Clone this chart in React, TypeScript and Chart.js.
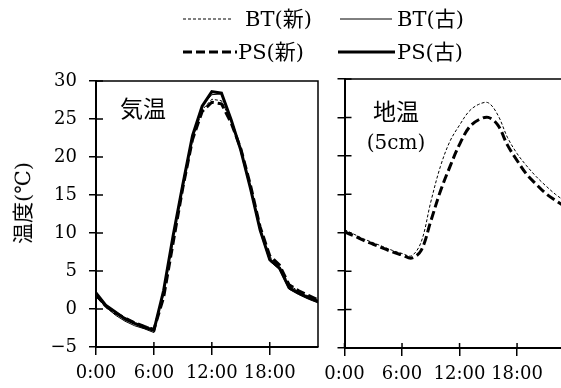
import React, { useEffect, useRef } from 'react';
import { Chart, registerables } from 'chart.js';

Chart.register(...registerables);

// ---- data ----
const hours = [0, 1, 2, 3, 4, 5, 6, 7, 8, 9, 10, 11, 12, 13, 14, 15, 16, 17, 18, 19, 20, 21, 22, 23];
const xTickHours = [0, 6, 12, 18];
const xTickLabels = ['0:00', '6:00', '12:00', '18:00'];
const yMin = -5;
const yMax = 30;
const yStep = 5;

// 気温 (air temperature)
const airBTNew = [1.7, 0.2, -0.7, -1.1, -1.8, -2.2, -2.6, 1.9, 9.0, 16.0, 22.2, 26.2, 27.6, 27.4, 24.7, 21.0, 16.1, 10.7, 6.9, 5.7, 3.2, 2.3, 1.7, 1.1];
const airBTOld = [1.6, 0.3, -0.8, -1.6, -2.2, -2.6, -3.1, 2.4, 9.8, 16.6, 22.9, 26.8, 28.2, 28.3, 24.8, 20.8, 15.8, 10.2, 6.3, 5.2, 2.6, 1.9, 1.3, 0.8];
const airPSNew = [1.9, 0.4, -0.5, -1.2, -1.8, -2.3, -2.7, 1.5, 8.8, 16.0, 22.3, 26.0, 27.2, 27.0, 24.5, 21.1, 16.3, 10.8, 7.0, 5.8, 3.2, 2.4, 1.8, 1.2];
const airPSOld = [2.1, 0.5, -0.4, -1.3, -1.9, -2.4, -2.8, 2.4, 9.7, 16.4, 22.8, 26.7, 28.6, 28.4, 24.9, 20.9, 15.9, 10.4, 6.5, 5.4, 2.8, 2.1, 1.5, 1.0];

// 地温 5cm (soil temperature)
const soilBTNew = [10.4, 9.8, 9.2, 8.7, 8.2, 7.7, 7.3, 7.0, 8.8, 14.0, 18.6, 21.9, 24.0, 25.8, 26.7, 26.9, 25.3, 22.4, 20.3, 18.7, 17.3, 16.1, 15.0, 14.1];
const soilPSNew = [10.1, 9.6, 9.0, 8.5, 8.0, 7.5, 7.1, 6.7, 7.7, 11.5, 15.4, 18.6, 21.5, 23.7, 24.7, 25.0, 24.0, 21.4, 19.4, 17.6, 16.3, 15.1, 14.2, 13.4];

const seriesNames = ['BT(新)', 'BT(古)', 'PS(新)', 'PS(古)'];
const panelLabelAir = '気温';
const panelLabelSoil = ['地温', '(5cm)'];
const yTitle = '温度(℃)';

// ---- styles ----
const FONT_FAMILY = "'DejaVu Serif', 'Noto Sans CJK JP', serif";
const BLACK = '#000';

const styleBTNew = { borderWidth: 1, borderDash: [3, 2] };
const styleBTOld = { borderWidth: 1, borderDash: [] as number[] };
const stylePSNew = { borderWidth: 3, borderDash: [9, 4] };
const stylePSOld = { borderWidth: 3, borderDash: [] as number[] };

const toPoints = (vals: number[]) => hours.map((h, i) => ({ x: h, y: vals[i] }));

const framePlugin = {
  id: 'frameTicks',
  afterDraw(chart: any) {
    const { ctx, chartArea: a, scales } = chart;
    ctx.save();
    ctx.strokeStyle = BLACK;
    ctx.lineWidth = 1.5;
    ctx.beginPath();
    ctx.moveTo(a.left, a.top);
    ctx.lineTo(a.right, a.top);
    ctx.lineTo(a.right, a.bottom);
    ctx.stroke();
    ctx.beginPath();
    scales.y.ticks.forEach((t: any) => {
      const p = scales.y.getPixelForValue(t.value);
      ctx.moveTo(a.left, p);
      ctx.lineTo(a.left + 7, p);
    });
    scales.x.ticks.forEach((t: any) => {
      const p = scales.x.getPixelForValue(t.value);
      ctx.moveTo(p, a.bottom);
      ctx.lineTo(p, a.bottom - 5);
    });
    ctx.stroke();
    ctx.restore();
  },
};

function makeConfig(datasets: any[], opts: { showYLabels: boolean; yWidth: number; xHeight: number; padding: any; tension: number }) {
  const font = { family: FONT_FAMILY, size: 18 };
  return {
    type: 'line' as const,
    data: { datasets },
    options: {
      responsive: false,
      animation: false as const,
      layout: { padding: opts.padding },
      elements: { point: { radius: 0 }, line: { tension: opts.tension } },
      plugins: { legend: { display: false }, tooltip: { enabled: false } },
      scales: {
        x: {
          type: 'linear' as const,
          min: 0,
          max: 23,
          afterBuildTicks: (s: any) => {
            s.ticks = xTickHours.map((v) => ({ value: v }));
          },
          afterFit: (s: any) => {
            s.height = opts.xHeight;
          },
          ticks: {
            autoSkip: false,
            maxRotation: 0,
            color: BLACK,
            font,
            padding: 8,
            callback: (v: any) => {
              const i = xTickHours.indexOf(Number(v));
              return i >= 0 ? xTickLabels[i] : '';
            },
          },
          grid: { drawOnChartArea: false, drawTicks: true, tickLength: 8, color: BLACK, lineWidth: 1.5 },
          border: { display: true, color: BLACK, width: 2 },
        },
        y: {
          min: yMin,
          max: yMax,
          afterFit: (s: any) => {
            s.width = opts.yWidth;
          },
          ticks: {
            stepSize: yStep,
            display: opts.showYLabels,
            padding: 12,
            color: BLACK,
            font,
            callback: (v: any) => String(v).replace('-', '\u2212'),
          },
          grid: { drawOnChartArea: false, drawTicks: true, tickLength: 7, color: BLACK, lineWidth: 1.5 },
          border: { display: true, color: BLACK, width: 2 },
        },
      },
    },
    plugins: [framePlugin],
  };
}

const ds = (label: string, vals: number[], style: any) => ({
  label,
  data: toPoints(vals),
  borderColor: BLACK,
  backgroundColor: BLACK,
  fill: false,
  borderCapStyle: 'butt',
  ...style,
});

export default function App() {
  const leftRef = useRef<HTMLCanvasElement>(null);
  const rightRef = useRef<HTMLCanvasElement>(null);

  useEffect(() => {
    const left = new Chart(
      leftRef.current as HTMLCanvasElement,
      makeConfig(
        [
          ds(seriesNames[0], airBTNew, styleBTNew),
          ds(seriesNames[1], airBTOld, styleBTOld),
          ds(seriesNames[2], airPSNew, stylePSNew),
          ds(seriesNames[3], airPSOld, stylePSOld),
        ],
        { showYLabels: true, yWidth: 96, xHeight: 41, padding: { top: 81, right: 12, left: 0, bottom: 0 }, tension: 0 }
      ) as any
    );
    const right = new Chart(
      rightRef.current as HTMLCanvasElement,
      makeConfig(
        [ds(seriesNames[0], soilBTNew, styleBTNew), ds(seriesNames[2], soilPSNew, stylePSNew)],
        { showYLabels: false, yWidth: 30.5, xHeight: 40, padding: { top: 79, right: 10, left: 0, bottom: 0 }, tension: 0.35 }
      ) as any
    );
    return () => {
      left.destroy();
      right.destroy();
    };
  }, []);

  const textBase: React.CSSProperties = {
    position: 'absolute',
    fontFamily: FONT_FAMILY,
    color: BLACK,
    whiteSpace: 'nowrap',
    margin: 0,
  };

  return (
    <div style={{ position: 'absolute', left: 0, top: 0, width: 561, height: 388, overflow: 'hidden', background: '#fff' }}>
      <canvas ref={leftRef} width={330} height={388} style={{ position: 'absolute', left: 0, top: 0, width: 330, height: 388 }} />
      <canvas ref={rightRef} width={261} height={388} style={{ position: 'absolute', left: 314, top: 0, width: 261, height: 388 }} />

      {/* legend */}
      <svg width={561} height={70} style={{ position: 'absolute', left: 0, top: 0 }}>
        <line x1={183} y1={19} x2={232} y2={19} stroke={BLACK} strokeWidth={1} strokeDasharray="3 2" />
        <line x1={340} y1={19} x2={392} y2={19} stroke={BLACK} strokeWidth={1} />
        <line x1={183} y1={52} x2={237} y2={52} stroke={BLACK} strokeWidth={3} strokeDasharray="9 4" />
        <line x1={338} y1={52} x2={395} y2={52} stroke={BLACK} strokeWidth={3} />
      </svg>
      <div style={{ ...textBase, left: 245, top: 6, fontSize: 21, lineHeight: '26px' }}>{seriesNames[0]}</div>
      <div style={{ ...textBase, left: 397, top: 6, fontSize: 21, lineHeight: '26px' }}>{seriesNames[1]}</div>
      <div style={{ ...textBase, left: 238, top: 39, fontSize: 21, lineHeight: '26px' }}>{seriesNames[2]}</div>
      <div style={{ ...textBase, left: 397, top: 39, fontSize: 21, lineHeight: '26px' }}>{seriesNames[3]}</div>

      {/* panel labels */}
      <div style={{ ...textBase, left: 120, top: 95, fontSize: 23, lineHeight: '28px' }}>{panelLabelAir}</div>
      <div style={{ ...textBase, left: 346, top: 98, width: 100, textAlign: 'center', fontSize: 23, lineHeight: '28px' }}>{panelLabelSoil[0]}</div>
      <div style={{ ...textBase, left: 346, top: 130, width: 100, textAlign: 'center', fontSize: 20, lineHeight: '24px' }}>{panelLabelSoil[1]}</div>

      {/* y axis title */}
      <div
        style={{
          ...textBase,
          left: 23,
          top: 203,
          fontSize: 21,
          lineHeight: '26px',
          transform: 'translate(-50%, -50%) rotate(-90deg)',
        }}
      >
        {yTitle}
      </div>
    </div>
  );
}
